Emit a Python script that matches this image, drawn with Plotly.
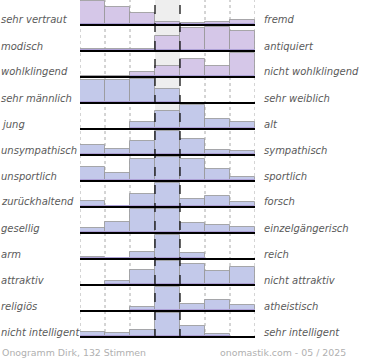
import plotly.graph_objects as go

left_labels = ["sehr vertraut", "modisch", "wohlklingend", "sehr männlich", "jung",
               "unsympathisch", "unsportlich", "zurückhaltend", "gesellig", "arm",
               "attraktiv", "religiös", "nicht intelligent"]
right_labels = ["fremd", "antiquiert", "nicht wohlklingend", "sehr weiblich", "alt",
                "sympathisch", "sportlich", "forsch", "einzelgängerisch", "reich",
                "nicht attraktiv", "atheistisch", "sehr intelligent"]

# relative bar heights per row (percent of the row maximum), 7 scale steps
row_values = [
    [100, 75, 50, 12, 8, 12, 21],
    [10, 10, 10, 62, 95, 100, 83],
    [4, 4, 21, 46, 75, 46, 100],
    [96, 94, 100, 58, 0, 0, 0],
    [0, 0, 27, 76, 100, 40, 28],
    [42, 25, 58, 100, 67, 19, 15],
    [58, 33, 92, 100, 92, 50, 15],
    [25, 6, 54, 100, 33, 46, 21],
    [21, 46, 100, 100, 40, 35, 25],
    [10, 6, 29, 100, 25, 0, 0],
    [0, 17, 62, 100, 88, 58, 75],
    [0, 0, 17, 100, 29, 46, 25],
    [21, 17, 29, 100, 46, 12, 0],
]

footer_left = "Onogramm Dirk, 132 Stimmen"
footer_right = "onomastik.com - 05 / 2025"

W, H = 370, 360
ML, MR, MT, MB = 80, 115, 0, 22
PW, PH = W - ML - MR, H - MT - MB

def px_x(px):
    return (px - ML) / PW

def px_y(py):
    return (H - MB - py) / PH

n_rows = len(row_values)
FULL = 24 / 26.0      # full bar height in row units
STRIP = 2 / 26.0      # purple base strip
pink_rows = {0, 1, 2}

fig = go.Figure()
xs = [i + 0.5 for i in range(7)]
for r, vals in enumerate(row_values):
    base = (n_rows - 1) - r
    hs = [v / 100 * FULL for v in vals]
    color = "#d5c7e8" if r in pink_rows else "#c3c9ea"
    fig.add_trace(go.Bar(
        x=xs, y=hs, base=[base] * 7, width=1,
        marker=dict(color=color, line=dict(color="rgba(150,150,150,0.8)", width=1)),
        hoverinfo="skip", showlegend=False))
    fig.add_trace(go.Bar(
        x=xs, y=[min(h, STRIP) for h in hs], base=[base] * 7, width=1,
        marker=dict(color="#ada0d6", line=dict(width=0)),
        hoverinfo="skip", showlegend=False))

shapes = []
shapes.append(dict(type="rect", xref="x", yref="paper", x0=3, x1=4, y0=0, y1=1,
                   fillcolor="#eeeeee", line=dict(width=0), layer="below"))
for xv in [0, 1, 2, 5, 6, 7]:
    shapes.append(dict(type="line", xref="x", yref="paper", x0=xv, x1=xv, y0=0, y1=1,
                       line=dict(color="#aaaaaa", width=1, dash="dot"), layer="below"))
for xv in [3, 4]:
    shapes.append(dict(type="line", xref="x", yref="paper", x0=xv, x1=xv, y0=0, y1=1,
                       line=dict(color="#000000", width=1.2, dash="dash"), layer="above"))
for r in range(n_rows):
    yb = (n_rows - 1) - r
    shapes.append(dict(type="line", xref="x", yref="y", x0=0, x1=7, y0=yb, y1=yb,
                       line=dict(color="#000000", width=2), layer="above"))

annotations = []
lab_font = dict(family="DejaVu Sans", size=10, color="#5a5a5a", style="italic")
for r in range(n_rows):
    py = 25 + 26 * r - 5
    annotations.append(dict(x=px_x(-1), y=px_y(py), xref="paper", yref="paper",
                            text=left_labels[r], showarrow=False, xanchor="left",
                            yanchor="middle", font=lab_font))
    annotations.append(dict(x=px_x(262), y=px_y(py), xref="paper", yref="paper",
                            text=right_labels[r], showarrow=False, xanchor="left",
                            yanchor="middle", font=lab_font))
foot_font = dict(family="DejaVu Sans", size=9.4, color="#b0b0b0")
annotations.append(dict(x=px_x(0), y=px_y(352), xref="paper", yref="paper", text=footer_left,
                        showarrow=False, xanchor="left", yanchor="middle", font=foot_font))
annotations.append(dict(x=px_x(348), y=px_y(352), xref="paper", yref="paper", text=footer_right,
                        showarrow=False, xanchor="right", yanchor="middle", font=foot_font))

fig.update_layout(
    width=W, height=H,
    margin=dict(l=ML, r=MR, t=MT, b=MB),
    paper_bgcolor="white", plot_bgcolor="white",
    barmode="overlay", bargap=0,
    xaxis=dict(range=[0, 7], visible=False, fixedrange=True),
    yaxis=dict(range=[-0.04, 12.96], visible=False, fixedrange=True),
    shapes=shapes, annotations=annotations,
)
fig.write_html("out.html", config={"displayModeBar": False},
               post_script="document.body.style.margin='0';document.body.style.overflow='hidden';")
